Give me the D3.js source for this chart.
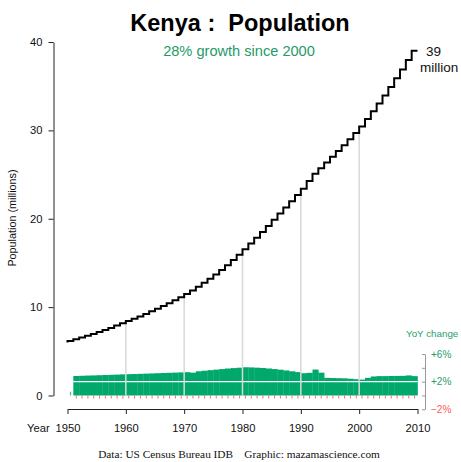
<!DOCTYPE html>
<html><head><meta charset="utf-8">
<script src="https://cdn.jsdelivr.net/npm/d3@7"></script>
<style>
body{margin:0;background:#fff;}
text{font-family:"Liberation Sans",Arial,sans-serif;}
</style></head>
<body>
<svg id="chart" width="461" height="462"></svg>
<script>
// ---- data ----
const years = d3.range(1950, 2011);
const population = [6.0,6.17,6.36,6.55,6.76,6.97,7.18,7.41,7.64,7.92,
  8.17,8.42,8.68,8.95,9.23,9.52,9.82,10.13,10.45,10.78,
  11.12,11.49,11.89,12.31,12.75,13.21,13.70,14.21,14.75,15.32,
  15.92,16.55,17.19,17.84,18.51,19.19,19.88,20.58,21.28,21.98,
  22.68,23.40,24.28,25.08,25.72,26.37,27.02,27.67,28.33,28.99,
  29.7,30.45,31.28,32.15,33.04,33.96,34.91,35.89,36.90,37.95,39.0];
const yoyYears = d3.range(1950, 2010);
const yoyChange = [null,2.82,2.85,2.88,2.9,2.93,2.96,2.99,3.02,3.05,
  3.08,3.1,3.13,3.16,3.19,3.22,3.25,3.28,3.31,3.34,
  3.37,3.3,3.5,3.58,3.66,3.74,3.82,3.9,3.96,4.02,
  4.08,4.06,4.02,3.97,3.9,3.82,3.73,3.62,3.5,3.38,
  3.22,3.28,3.75,3.3,2.55,2.52,2.5,2.48,2.42,2.35,
  2.3,2.55,2.75,2.8,2.8,2.82,2.83,2.84,2.9,2.8];
const popTicks = [0,10,20,30,40];
const yearTicks = [1950,1960,1970,1980,1990,2000,2010];
const gridYears = [1960,1970,1980,1990,2000];
const yoyTicks = [-2,0,2,4,6];
const yoyLabels = [{v:6,t:"+6%",c:"#1f9e6a"},{v:2,t:"+2%",c:"#1f9e6a"},{v:-2,t:"\u22122%",c:"#ff5a5a"}];

const svg = d3.select("#chart");
const x = d3.scaleLinear().domain([1950,2010]).range([67.5,417.5]);
const y = d3.scaleLinear().domain([0,40]).range([395.5,42]);
const yy = d3.scaleLinear().domain([-2,6]).range([409.3,354]);
const green = "#00a86b";

// title
svg.append("text").attr("x",240).attr("y",31).attr("text-anchor","middle")
  .style("font-size","23.5px").style("font-weight","bold").style("white-space","pre")
  .text("Kenya :  Population");
svg.append("text").attr("x",239).attr("y",55.5).attr("text-anchor","middle")
  .style("font-size","14.6px").attr("fill","#1f9a68").text("28% growth since 2000");

// bars
const bars = yoyYears.map((yr,i)=>({yr, v:yoyChange[i]}));
svg.append("g").selectAll("rect").data(bars.filter(d=>d.v!==null)).join("rect")
  .attr("x",d=>x(d.yr)).attr("width",d=>x(d.yr+1)-x(d.yr)+0.3)
  .attr("y",d=>yy(d.v)).attr("height",d=>yy(0)-yy(d.v))
  .attr("fill",green);
// NA marker
svg.append("g").selectAll("rect").data(bars.filter(d=>d.v===null)).join("rect")
  .attr("x",d=>x(d.yr+0.5)-0.5).attr("width",1.2)
  .attr("y",yy(0)-3.8).attr("height",3.8).attr("fill","#6aa88a");
// red ticks below zero
svg.append("g").selectAll("line").data(bars.filter(d=>d.v!==null)).join("line")
  .attr("x1",d=>x(d.yr+0.5)).attr("x2",d=>x(d.yr+0.5))
  .attr("y1",yy(0)).attr("y2",yy(0)+3).attr("stroke","#ff6a6a").attr("stroke-width",1);
// white +2% line
svg.append("line").attr("x1",x(1951)).attr("x2",x(2010)).attr("y1",yy(2)).attr("y2",yy(2))
  .attr("stroke","#fff").attr("stroke-width",1.3);

// vertical gridlines
svg.append("g").selectAll("line").data(gridYears).join("line")
  .attr("x1",d=>x(d)).attr("x2",d=>x(d))
  .attr("y1",y(0)).attr("y2",d=>y(population[d-1950]))
  .attr("stroke","#d8d8d8").attr("stroke-width",1.5);

// population step line
const line = d3.line().x((d,i)=>x(years[i])).y(d=>y(d)).curve(d3.curveStepBefore);
svg.append("path").datum(population).attr("d",line)
  .attr("fill","none").attr("stroke","#000").attr("stroke-width",2);

svg.append("text").attr("x",426).attr("y",55.5).style("font-size","13.5px").attr("fill","#111").text("39");
svg.append("text").attr("x",420).attr("y",71.5).style("font-size","13.5px").attr("fill","#111").text("million");

// left axis
const ya = svg.append("g").attr("transform","translate(53.5,0)")
  .call(d3.axisLeft(y).tickValues(popTicks).tickSize(5).tickSizeOuter(0).tickPadding(6).tickFormat(d3.format("d")));
ya.selectAll("text").style("font-size","11.2px").attr("fill","#111").style("font-family","Liberation Sans, Arial, sans-serif");
ya.selectAll("path,line").attr("stroke","#222");
svg.append("text").attr("transform","translate(16,218) rotate(-90)").attr("text-anchor","middle")
  .style("font-size","10.8px").attr("fill","#111").text("Population (millions)");

// bottom axis
const xa = svg.append("g").attr("transform","translate(0,409)")
  .call(d3.axisBottom(x).tickValues(yearTicks).tickSize(5).tickSizeOuter(0).tickPadding(10).tickFormat(d3.format("d")));
xa.selectAll("text").style("font-size","11.2px").attr("fill","#111").style("font-family","Liberation Sans, Arial, sans-serif");
xa.selectAll("path,line").attr("stroke","#222");
svg.append("text").attr("x",27).attr("y",432.3).style("font-size","11.2px").attr("fill","#111").text("Year");

// YoY axis
const ra = svg.append("g").attr("transform","translate(425,0)")
  .call(d3.axisLeft(yy).tickValues(yoyTicks).tickSize(3).tickSizeOuter(0).tickFormat(""));
ra.selectAll("path,line").attr("stroke","#999");
svg.append("g").selectAll("text").data(yoyLabels).join("text")
  .attr("x",431).attr("y",d=>yy(d.v)+3.6).style("font-size","10px").attr("fill",d=>d.c).text(d=>d.t);
svg.append("text").attr("x",406).attr("y",336.5).style("font-size","9.8px").attr("fill","#1f9e6a").text("YoY change");

// caption
svg.append("text").attr("x",239).attr("y",458).attr("text-anchor","middle")
  .style("font-family","Liberation Serif, Times New Roman, serif").style("font-size","11.3px")
  .style("white-space","pre").attr("fill","#111")
  .text("Data: US Census Bureau IDB    Graphic: mazamascience.com");
</script>
</body></html>
